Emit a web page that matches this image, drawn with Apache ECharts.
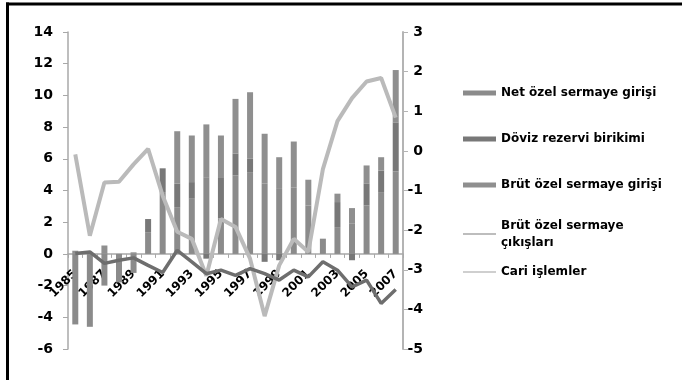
<!DOCTYPE html>
<html>
<head>
<meta charset="utf-8">
<script src="https://cdn.jsdelivr.net/npm/echarts@6/dist/echarts.min.js"></script>
<style>
  html, body { margin: 0; padding: 0; background: #fff; }
  #chart { width: 682px; height: 380px; }
</style>
</head>
<body>
<div id="chart"></div>
<script>
// Years on the category axis
const years = ['1985','1986','1987','1988','1989','1990','1991','1992','1993','1994','1995','1996',
               '1997','1998','1999','2000','2001','2002','2003','2004','2005','2006','2007'];

// Stacked columns (left axis)
const netOzelGiris = [-4.45,-4.6,-2.0,-1.8,-1.2,1.37,3.9,2.95,3.48,4.84,2.24,4.95,
                      5.16,4.43,4.1,4.2,3.06,0.96,1.69,1.9,3.06,3.9,5.2];
const dovizRezervi = [0,0,0,0,0,0.83,1.5,1.48,1.05,-0.3,2.6,1.37,
                      0.84,-0.5,-0.4,0,0,0,1.58,-0.4,1.36,1.36,3.1];
const brutOzelGiris = [0.2,0.1,0.53,0,0.1,0,0,3.31,2.94,3.33,2.63,3.46,
                       4.2,3.15,2.0,2.89,1.62,0,0.53,0.99,1.16,0.84,3.3];

// Lines (right axis)
const brutOzelCikis = [-2.59,-2.55,-2.84,-2.76,-2.70,-2.89,-3.07,-2.51,-2.80,-3.10,-3.01,-3.14,
                       -2.97,-3.10,-3.26,-3.01,-3.18,-2.80,-3.01,-3.43,-3.26,-3.85,-3.5];
const cariIslemler = [-0.09,-2.14,-0.8,-0.78,-0.34,0.05,-1.13,-2.04,-2.22,-3.15,-1.72,-1.92,
                      -2.72,-4.17,-2.89,-2.22,-2.55,-0.46,0.75,1.33,1.75,1.84,0.84];

const FONT = 'DejaVu Sans';
const labelStyle = { color: '#000', fontFamily: FONT, fontWeight: 'bold', fontSize: 13 };

// Plot box
const GRID = { left: 68, right: 279, top: 32, bottom: 31 };
const PLOT_H = 380 - GRID.top - GRID.bottom;
const LEFT_MIN = -6, LEFT_MAX = 14;
// Category axis sits on the left axis' zero line
const zeroOffset = -PLOT_H * (0 - LEFT_MIN) / (LEFT_MAX - LEFT_MIN);

function legendAt(name, top, extra) {
  return Object.assign({
    data: [name], orient: 'vertical', left: 463, top: top, padding: 0,
    itemWidth: 33, itemHeight: 5, icon: 'rect',
    textStyle: Object.assign({}, labelStyle, { fontSize: 12, lineHeight: 17 }),
    selectedMode: false
  }, extra || {});
}

const chart = echarts.init(document.getElementById('chart'), null, { renderer: 'canvas' });
chart.setOption({
  animation: false,
  backgroundColor: '#fff',
  grid: Object.assign({ containLabel: false, outerBoundsMode: 'none' }, GRID),
  legend: [
    legendAt('Net özel sermaye girişi', 84.5),
    legendAt('Döviz rezervi birikimi', 130.5),
    legendAt('Brüt özel sermaye girişi', 176.5),
    legendAt('Brüt özel sermaye çıkışları', 217, {
      itemHeight: 2,
      formatter: () => 'Brüt özel sermaye\nçıkışları',
      itemStyle: { color: '#bdbdbd' }
    }),
    legendAt('Cari işlemler', 263.5, {
      itemHeight: 2,
      itemStyle: { color: '#cfcfcf' }
    })
  ],
  xAxis: {
    type: 'category', data: years, boundaryGap: true,
    position: 'bottom', offset: zeroOffset,
    axisLine: { onZero: false, lineStyle: { color: '#a8a8a8', width: 1.5 } },
    axisTick: { show: true, interval: 0, length: 4, lineStyle: { color: '#a8a8a8' } },
    axisLabel: Object.assign({ interval: 1, rotate: 45, margin: 18 }, labelStyle, { fontSize: 12 }),
    splitLine: { show: false }
  },
  yAxis: [
    {
      type: 'value', min: LEFT_MIN, max: LEFT_MAX, interval: 2, position: 'left',
      axisLine: { show: true, lineStyle: { color: '#a8a8a8', width: 1.5 } },
      axisTick: { show: true, length: 5, lineStyle: { color: '#a8a8a8' } },
      axisLabel: Object.assign({ margin: 15 }, labelStyle, { fontSize: 14 }),
      splitLine: { show: false }
    },
    {
      type: 'value', min: -5, max: 3, interval: 1, position: 'right',
      axisLine: { show: true, lineStyle: { color: '#b4b4b4', width: 2 } },
      axisTick: { show: true, length: 5, lineStyle: { color: '#b4b4b4' } },
      axisLabel: Object.assign({ margin: 20, align: 'right' }, labelStyle, { fontSize: 14 }),
      splitLine: { show: false }
    }
  ],
  series: [
    { name: 'Net özel sermaye girişi', type: 'bar', stack: 'akim', yAxisIndex: 0,
      barWidth: 6, data: netOzelGiris, itemStyle: { color: '#8b8b8b' } },
    { name: 'Döviz rezervi birikimi', type: 'bar', stack: 'akim', yAxisIndex: 0,
      barWidth: 6, data: dovizRezervi, itemStyle: { color: '#787878' } },
    { name: 'Brüt özel sermaye girişi', type: 'bar', stack: 'akim', yAxisIndex: 0,
      barWidth: 6, data: brutOzelGiris, itemStyle: { color: '#8f8f8f' } },
    { name: 'Brüt özel sermaye çıkışları', type: 'line', yAxisIndex: 1,
      data: brutOzelCikis, symbol: 'none', z: 5,
      lineStyle: { color: '#6e6e6e', width: 3.5 }, itemStyle: { color: '#6e6e6e' } },
    { name: 'Cari işlemler', type: 'line', yAxisIndex: 1,
      data: cariIslemler, symbol: 'none', z: 4,
      lineStyle: { color: '#bababa', width: 4 }, itemStyle: { color: '#bababa' } }
  ],
  graphic: [
    // Outer frame: left and top edges
    { type: 'rect', silent: true, z: 100,
      shape: { x: 6, y: 2.5, width: 3, height: 390 },
      style: { fill: '#000' } },
    { type: 'rect', silent: true, z: 100,
      shape: { x: 6, y: 2.5, width: 690, height: 3 },
      style: { fill: '#000' } }
  ]
});
</script>
</body>
</html>
